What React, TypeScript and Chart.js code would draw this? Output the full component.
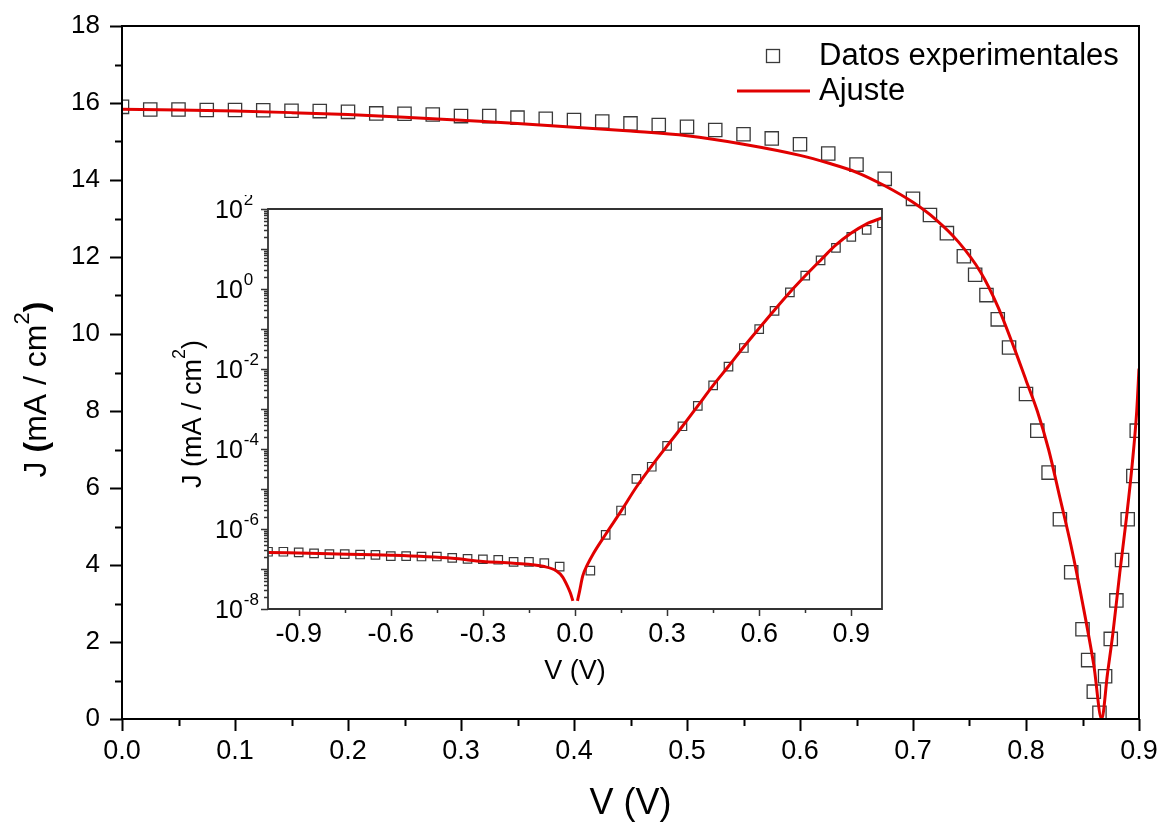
import React, { useEffect, useRef } from 'react';
import { Chart, registerables } from 'chart.js';

Chart.register(...registerables);

// ---------- Main plot data (|J| vs V) ----------
const expV = [
  0, 0.025, 0.05, 0.075, 0.1, 0.125, 0.15, 0.175, 0.2, 0.225, 0.25, 0.275, 0.3, 0.325, 0.35, 0.375,
  0.4, 0.425, 0.45, 0.475, 0.5, 0.525, 0.55, 0.575, 0.6, 0.625, 0.65, 0.675, 0.7, 0.715, 0.73,
  0.745, 0.755, 0.765, 0.775, 0.785, 0.8, 0.81, 0.82, 0.83, 0.84, 0.85, 0.855, 0.86, 0.865, 0.87,
  0.875, 0.88, 0.885, 0.89, 0.895, 0.898,
];
const expJ = [
  15.9, 15.83, 15.83, 15.82, 15.82, 15.81, 15.8, 15.79, 15.77, 15.73, 15.72, 15.7, 15.66, 15.66, 15.62, 15.59,
  15.56, 15.52, 15.47, 15.43, 15.38, 15.3, 15.19, 15.08, 14.93, 14.69, 14.4, 14.03, 13.51, 13.09, 12.62,
  12.02, 11.54, 11.01, 10.38, 9.65, 8.44, 7.49, 6.4, 5.19, 3.81, 2.33, 1.53, 0.71, 0.16, 1.11,
  2.08, 3.08, 4.13, 5.19, 6.31, 7.49,
];
const fitV = [
  0, 0.05, 0.1, 0.15, 0.2, 0.25, 0.3, 0.35, 0.4, 0.45, 0.5, 0.55, 0.6, 0.625, 0.65, 0.675, 0.7, 0.72,
  0.74, 0.76, 0.775, 0.79, 0.8, 0.81, 0.82, 0.83, 0.84, 0.85, 0.86, 0.867, 0.872, 0.877, 0.883, 0.889,
  0.894, 0.898, 0.9,
];
const fitJ = [
  15.84, 15.82, 15.79, 15.75, 15.7, 15.63, 15.55, 15.47, 15.37, 15.27, 15.15, 14.93, 14.64, 14.44, 14.2,
  13.85, 13.42, 12.98, 12.4, 11.6, 10.72, 9.6, 8.8, 8.0, 7.0, 5.75, 4.48, 3.02, 1.4, 0, 1.15, 2.25, 3.8,
  5.25, 6.62, 8.0, 9.1,
];

// ---------- Inset data (log |J| vs V) ----------
const insetExpV = [
  -1.0, -0.95, -0.9, -0.85, -0.8, -0.75, -0.7, -0.65, -0.6, -0.55, -0.5, -0.45, -0.4, -0.35, -0.3, -0.25,
  -0.2, -0.15, -0.1, -0.05, 0.05, 0.1, 0.15, 0.2, 0.25, 0.3, 0.35, 0.4, 0.45, 0.5, 0.55, 0.6, 0.65, 0.7,
  0.75, 0.8, 0.85, 0.9, 0.95, 1.0,
];
const insetExpJ = [
  2.7e-7, 2.7e-7, 2.6e-7, 2.45e-7, 2.35e-7, 2.35e-7, 2.3e-7, 2.25e-7, 2.1e-7, 2.1e-7, 2.05e-7, 2.05e-7,
  1.9e-7, 1.8e-7, 1.75e-7, 1.7e-7, 1.5e-7, 1.5e-7, 1.4e-7, 1.15e-7, 9.1e-8, 7.1e-7, 2.9e-6, 1.8e-5,
  3.6e-5, 1.2e-4, 3.7e-4, 1.2e-3, 3.9e-3, 1.15e-2, 3.35e-2, 9.9e-2, 0.285, 0.82, 2.15, 5.2, 10.7, 20,
  30, 44,
];
const insetFitV = [
  -1.0, -0.8, -0.6, -0.4, -0.3, -0.2, -0.1, -0.06, -0.04, -0.025, -0.015, -0.007, 0, 0.008, 0.015, 0.025,
  0.04, 0.06, 0.1, 0.15, 0.2, 0.25, 0.3, 0.35, 0.4, 0.45, 0.5, 0.55, 0.6, 0.65, 0.7, 0.75, 0.8, 0.85,
  0.9, 0.95, 1.0,
];
const insetFitJ = [
  2.6e-7, 2.4e-7, 2.2e-7, 1.85e-7, 1.55e-7, 1.4e-7, 1.15e-7, 8.9e-8, 6.3e-8, 3.8e-8, 2.5e-8, 1.6e-8, null,
  1.6e-8, 2.8e-8, 6.6e-8, 1.26e-7, 2.45e-7, 7.4e-7, 2.8e-6, 1.12e-5, 3.8e-5, 1.2e-4, 3.7e-4, 1.2e-3,
  3.9e-3, 1.17e-2, 3.6e-2, 0.105, 0.3, 0.83, 2.14, 5.25, 12.6, 25, 42.7, 60,
];

// ---------- Ticks ----------
const MAIN_X_TICKS = [0, 0.1, 0.2, 0.3, 0.4, 0.5, 0.6, 0.7, 0.8, 0.9];
const MAIN_X_MINOR = [0.05, 0.15, 0.25, 0.35, 0.45, 0.55, 0.65, 0.75, 0.85];
const MAIN_Y_TICKS = [0, 2, 4, 6, 8, 10, 12, 14, 16, 18];
const MAIN_Y_MINOR = [1, 3, 5, 7, 9, 11, 13, 15, 17];
const INSET_X_TICKS = [-0.9, -0.6, -0.3, 0, 0.3, 0.6, 0.9];
const INSET_X_MINOR = [-0.75, -0.45, -0.15, 0.15, 0.45, 0.75];
const INSET_Y_DECADES = [-8, -7, -6, -5, -4, -3, -2, -1, 0, 1, 2];
const INSET_Y_LABEL_EXPS = [-8, -6, -4, -2, 0, 2];
const INSET_Y_MINOR_MULT = [2, 3, 4, 5, 6, 7, 8, 9];

const LABELS = { exp: 'Datos experimentales', fit: 'Ajuste', xTitle: 'V (V)' };

const FAMILY = "'Liberation Sans', Arial, Helvetica, sans-serif";
const RED = '#e10000';
const SQ = '#3a3a3a';

type Part = { text: string; size: number; weight?: string; raise?: number };

function drawRotatedRich(ctx: CanvasRenderingContext2D, cx: number, cy: number, parts: Part[]) {
  ctx.save();
  ctx.translate(cx, cy);
  ctx.rotate(-Math.PI / 2);
  ctx.textBaseline = 'alphabetic';
  ctx.textAlign = 'left';
  ctx.fillStyle = '#000';
  const widths = parts.map((p) => {
    ctx.font = `${p.weight || 'normal'} ${p.size}px ${FAMILY}`;
    return ctx.measureText(p.text).width;
  });
  const total = widths.reduce((a, b) => a + b, 0);
  const base = parts[0].size * 0.36;
  let x = -total / 2;
  parts.forEach((p, i) => {
    ctx.font = `${p.weight || 'normal'} ${p.size}px ${FAMILY}`;
    ctx.fillText(p.text, x, base - (p.raise || 0));
    x += widths[i];
  });
  ctx.restore();
}

const axisDecor = {
  id: 'axisDecor',
  afterDraw(chart: any, _args: any, opts: any) {
    const { ctx, chartArea: ca } = chart;
    const xs = chart.scales.x;
    const ys = chart.scales.y;
    ctx.save();
    ctx.strokeStyle = opts.color;
    ctx.lineWidth = opts.lineWidth;
    ctx.lineCap = 'butt';
    ctx.beginPath();
    ctx.rect(ca.left, ca.top, ca.right - ca.left, ca.bottom - ca.top);
    ctx.stroke();
    ctx.lineWidth = opts.tickWidth;
    ctx.beginPath();
    const xt = (vals: number[], len: number) =>
      vals.forEach((v) => {
        const px = Math.round(xs.getPixelForValue(v)) + 0.5;
        ctx.moveTo(px, ca.bottom);
        ctx.lineTo(px, ca.bottom + len);
      });
    const yt = (vals: number[], len: number) =>
      vals.forEach((v) => {
        const py = Math.round(ys.getPixelForValue(v)) + 0.5;
        ctx.moveTo(ca.left, py);
        ctx.lineTo(ca.left - len, py);
      });
    xt(opts.xMajor, opts.majorLen);
    xt(opts.xMinor, opts.minorLen);
    yt(opts.yMajor, opts.majorLen);
    yt(opts.yMinor, opts.minorLen);
    ctx.stroke();
    ctx.restore();
  },
};

const mainExtras = {
  id: 'mainExtras',
  afterDraw(chart: any) {
    const { ctx, chartArea: ca } = chart;
    const ds = chart.data.datasets;
    // y title
    drawRotatedRich(ctx, ca.left - 88, (ca.top + ca.bottom) / 2 + 17, [
      { text: 'J ', size: 32 },
      { text: '(', size: 32, weight: 'bold' },
      { text: 'mA / cm', size: 32 },
      { text: '2', size: 22, raise: 17 },
      { text: ')', size: 32, weight: 'bold' },
    ]);
    // legend
    ctx.save();
    const lx = ca.right - 320;
    const y1 = ca.top + 30;
    const y2 = ca.top + 65;
    ctx.strokeStyle = SQ;
    ctx.lineWidth = 1.3;
    ctx.strokeRect(lx - 52.5, y1 - 6.5, 13, 13);
    ctx.strokeStyle = RED;
    ctx.lineWidth = 3;
    ctx.beginPath();
    ctx.moveTo(lx - 82, y2);
    ctx.lineTo(lx - 9, y2);
    ctx.stroke();
    ctx.fillStyle = '#000';
    ctx.font = `31px ${FAMILY}`;
    ctx.textBaseline = 'middle';
    ctx.textAlign = 'left';
    ctx.fillText(ds[0].label, lx, y1);
    ctx.fillText(ds[1].label, lx, y2);
    ctx.restore();
  },
};

const insetExtras = {
  id: 'insetExtras',
  afterDraw(chart: any) {
    const { ctx, chartArea: ca } = chart;
    const ys = chart.scales.y;
    drawRotatedRich(ctx, ca.left - 77, (ca.top + ca.bottom) / 2 + 5, [
      { text: 'J (mA / cm', size: 27 },
      { text: '2', size: 18, raise: 16 },
      { text: ')', size: 27 },
    ]);
    ctx.save();
    ctx.fillStyle = '#000';
    ctx.textAlign = 'left';
    ctx.textBaseline = 'middle';
    INSET_Y_LABEL_EXPS.forEach((e) => {
      const py = ys.getPixelForValue(Math.pow(10, e));
      const x0 = ca.left - 53;
      ctx.font = `25px ${FAMILY}`;
      ctx.fillText('10', x0, py + 2);
      const w = ctx.measureText('10').width;
      ctx.font = `17px ${FAMILY}`;
      ctx.fillText(String(e), x0 + w + 1, py - 9);
    });
    ctx.restore();
  },
};

const zeroPadX = (s: any, h: number) => {
  s.height = h;
  s.paddingLeft = 0;
  s.paddingRight = 0;
};
const zeroPadY = (s: any, w: number) => {
  s.width = w;
  s.paddingTop = 0;
  s.paddingBottom = 0;
};

function mainConfig(): any {
  return {
    type: 'scatter',
    data: {
      datasets: [
        {
          label: LABELS.exp,
          data: expV.map((x, i) => ({ x, y: expJ[i] })),
          pointStyle: 'rect',
          pointRadius: 9.4,
          pointBorderColor: SQ,
          pointBorderWidth: 1.3,
          pointBackgroundColor: 'rgba(0,0,0,0)',
          borderColor: SQ,
          backgroundColor: 'rgba(0,0,0,0)',
          showLine: false,
          order: 1,
        },
        {
          label: LABELS.fit,
          data: fitV.map((x, i) => ({ x, y: fitJ[i] })),
          showLine: true,
          borderColor: RED,
          borderWidth: 3,
          pointRadius: 0,
          cubicInterpolationMode: 'monotone',
          fill: false,
          order: 0,
        },
      ],
    },
    options: {
      responsive: false,
      animation: false,
      devicePixelRatio: 1,
      layout: { padding: { top: 26, right: 25, left: 0, bottom: 0 } },
      plugins: {
        legend: { display: false },
        tooltip: { enabled: false },
        axisDecor: {
          color: '#000',
          lineWidth: 2,
          tickWidth: 2,
          majorLen: 12,
          minorLen: 7,
          xMajor: MAIN_X_TICKS,
          xMinor: MAIN_X_MINOR,
          yMajor: MAIN_Y_TICKS,
          yMinor: MAIN_Y_MINOR,
        },
      },
      scales: {
        x: {
          type: 'linear',
          min: 0,
          max: 0.9,
          afterBuildTicks: (s: any) => {
            s.ticks = MAIN_X_TICKS.map((v) => ({ value: v }));
          },
          afterFit: (s: any) => zeroPadX(s, 107),
          grid: { display: false, drawTicks: false },
          border: { display: false },
          ticks: {
            padding: 16,
            color: '#000',
            font: { family: FAMILY, size: 27 },
            maxRotation: 0,
            autoSkip: false,
            callback: (v: any) => Number(v).toFixed(1),
          },
          title: {
            display: true,
            text: LABELS.xTitle,
            color: '#000',
            font: { family: FAMILY, size: 36 },
            padding: { top: 0, bottom: 0 },
          },
        },
        y: {
          type: 'linear',
          min: 0,
          max: 18,
          afterBuildTicks: (s: any) => {
            s.ticks = MAIN_Y_TICKS.map((v) => ({ value: v }));
          },
          afterFit: (s: any) => zeroPadY(s, 122),
          grid: { display: false, drawTicks: false },
          border: { display: false },
          ticks: {
            padding: 22,
            color: '#000',
            font: { family: FAMILY, size: 26 },
            autoSkip: false,
            callback: (v: any) => String(v),
          },
        },
      },
    },
    plugins: [axisDecor, mainExtras],
  };
}

function insetConfig(): any {
  const yMinor: number[] = [];
  INSET_Y_DECADES.slice(0, -1).forEach((d) =>
    INSET_Y_MINOR_MULT.forEach((m) => yMinor.push(m * Math.pow(10, d)))
  );
  return {
    type: 'scatter',
    data: {
      datasets: [
        {
          label: LABELS.exp,
          data: insetExpV.map((x, i) => ({ x, y: insetExpJ[i] })),
          pointStyle: 'rect',
          pointRadius: 6,
          pointBorderColor: SQ,
          pointBorderWidth: 1.2,
          pointBackgroundColor: 'rgba(0,0,0,0)',
          borderColor: SQ,
          backgroundColor: 'rgba(0,0,0,0)',
          showLine: false,
          order: 1,
        },
        {
          label: LABELS.fit,
          data: insetFitV.map((x, i) => ({ x, y: insetFitJ[i] })),
          showLine: true,
          spanGaps: false,
          borderColor: RED,
          borderWidth: 3,
          pointRadius: 0,
          cubicInterpolationMode: 'monotone',
          fill: false,
          order: 0,
        },
      ],
    },
    options: {
      responsive: false,
      animation: false,
      devicePixelRatio: 1,
      layout: { padding: { top: 14, right: 8, left: 0, bottom: 0 } },
      plugins: {
        legend: { display: false },
        tooltip: { enabled: false },
        axisDecor: {
          color: '#333',
          lineWidth: 1.8,
          tickWidth: 1.5,
          majorLen: 7,
          minorLen: 4,
          xMajor: INSET_X_TICKS,
          xMinor: INSET_X_MINOR,
          yMajor: INSET_Y_DECADES.map((d) => Math.pow(10, d)),
          yMinor: yMinor,
        },
      },
      scales: {
        x: {
          type: 'linear',
          min: -1,
          max: 1,
          afterBuildTicks: (s: any) => {
            s.ticks = INSET_X_TICKS.map((v) => ({ value: v }));
          },
          afterFit: (s: any) => zeroPadX(s, 91),
          grid: { display: false, drawTicks: false },
          border: { display: false },
          ticks: {
            padding: 9,
            color: '#000',
            font: { family: FAMILY, size: 27 },
            maxRotation: 0,
            autoSkip: false,
            callback: (v: any) => Number(v).toFixed(1),
          },
          title: {
            display: true,
            text: LABELS.xTitle,
            color: '#000',
            font: { family: FAMILY, size: 27 },
            padding: { top: 0, bottom: 12 },
          },
        },
        y: {
          type: 'logarithmic',
          min: 1e-8,
          max: 1e2,
          afterBuildTicks: (s: any) => {
            s.ticks = INSET_Y_DECADES.map((d) => ({ value: Math.pow(10, d) }));
          },
          afterFit: (s: any) => zeroPadY(s, 118),
          grid: { display: false, drawTicks: false },
          border: { display: false },
          ticks: { display: false },
        },
      },
    },
    plugins: [axisDecor, insetExtras],
  };
}

export default function App() {
  const mainRef = useRef<HTMLCanvasElement>(null);
  const insetRef = useRef<HTMLCanvasElement>(null);
  useEffect(() => {
    const main = new Chart(mainRef.current as HTMLCanvasElement, mainConfig());
    const inset = new Chart(insetRef.current as HTMLCanvasElement, insetConfig());
    return () => {
      main.destroy();
      inset.destroy();
    };
  }, []);
  return (
    <div style={{ position: 'absolute', left: 0, top: 0, width: 1164, height: 826, background: '#fff' }}>
      <canvas
        ref={mainRef}
        width={1164}
        height={826}
        style={{ position: 'absolute', left: 0, top: 0, width: 1164, height: 826 }}
      />
      <canvas
        ref={insetRef}
        width={740}
        height={505}
        style={{ position: 'absolute', left: 150, top: 195, width: 740, height: 505 }}
      />
    </div>
  );
}
